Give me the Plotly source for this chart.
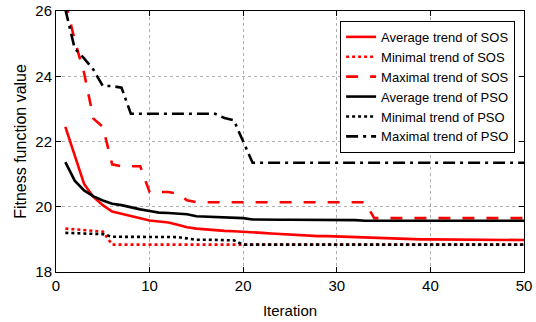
import plotly.graph_objects as go

iterations = list(range(1, 51))

sos_avg = [22.45, 21.55, 20.7, 20.3, 20.05, 19.85, 19.78, 19.7, 19.63, 19.58,
           19.55, 19.52, 19.45, 19.37, 19.33, 19.3, 19.28, 19.26, 19.25, 19.24,
           19.22, 19.2, 19.18, 19.16, 19.15, 19.13, 19.12, 19.1, 19.1, 19.09,
           19.08, 19.07, 19.06, 19.03, 19.02, 19.01, 19.01, 19.0, 19.0, 19.0,
           19.0, 18.99, 18.98, 18.98, 18.98, 18.98, 18.98, 18.98, 18.98, 18.98]

sos_min = [19.33, 19.31, 19.3, 19.28, 19.24] + [18.84] * 45

sos_max = [26.3, 25.1, 24.1, 22.7, 22.45, 21.3, 21.24, 21.24, 21.24, 20.45,
           20.45, 20.45, 20.4, 20.2] + [20.14] * 19 + [19.65] * 17

pso_avg = [21.37, 20.8, 20.5, 20.32, 20.19, 20.09, 20.05, 19.98, 19.92, 19.87,
           19.82, 19.81, 19.79, 19.77, 19.71, 19.7, 19.69, 19.68, 19.67, 19.65,
           19.61, 19.6, 19.6, 19.6, 19.6, 19.6, 19.6, 19.6, 19.59, 19.59,
           19.59, 19.59] + [19.57] * 18

pso_min = [19.2, 19.19, 19.18, 19.17, 19.16, 19.08, 19.08, 19.08, 19.08, 19.08,
           19.08, 19.08, 19.07, 19.03, 18.99, 18.99, 18.99, 18.98, 18.97] + [18.84] * 31

pso_max = [26.05, 24.85, 24.55, 24.2, 23.7, 23.7, 23.65] + [22.85] * 10 + \
          [22.72, 22.65, 22.0] + [21.35] * 30

names = ["Average trend of SOS", "Minimal trend of SOS", "Maximal trend of SOS",
         "Average trend of PSO", "Minimal trend of PSO", "Maximal trend of PSO"]
series = [sos_avg, sos_min, sos_max, pso_avg, pso_min, pso_max]
colors = ["#ff0000", "#ff0000", "#ff0000", "#000000", "#000000", "#000000"]
dashes = ["solid", "dot", "12px,12px", "solid", "dot", "12px,5px,3px,5px"]

x_ticks = [0, 10, 20, 30, 40, 50]
y_ticks = [18, 20, 22, 24, 26]

fig = go.Figure()
for name, ys, c, d in zip(names, series, colors, dashes):
    fig.add_trace(go.Scatter(x=iterations, y=ys, mode="lines", name=name,
                             line=dict(color=c, width=2.6, dash=d)))

font_family = "Liberation Sans, Arial, sans-serif"
axis_common = dict(
    showline=True, linecolor="black", linewidth=1, mirror="ticks",
    ticks="inside", ticklen=5, tickcolor="black",
    showgrid=True, gridcolor="#b0b0b0", gridwidth=1, griddash="dot",
    zeroline=False, automargin=False,
    tickfont=dict(size=15, color="black", family=font_family),
)

fig.update_layout(
    width=536, height=322,
    margin=dict(l=56, r=12, t=11, b=50),
    paper_bgcolor="white", plot_bgcolor="white",
    font=dict(family=font_family, color="black"),
    xaxis=dict(range=[0, 50], tickvals=x_ticks,
               title=dict(text="Iteration", font=dict(size=15), standoff=12),
               **axis_common),
    yaxis=dict(range=[18, 26], tickvals=y_ticks,
               title=dict(text="Fitness function value", font=dict(size=16), standoff=4),
               **axis_common),
    legend=dict(x=0.981, y=0.962, xanchor="right", yanchor="top",
                bgcolor="white", bordercolor="black", borderwidth=1,
                font=dict(size=13, color="black", family=font_family),
                tracegroupgap=0),
    showlegend=True,
)

fig.write_html("out.html")
